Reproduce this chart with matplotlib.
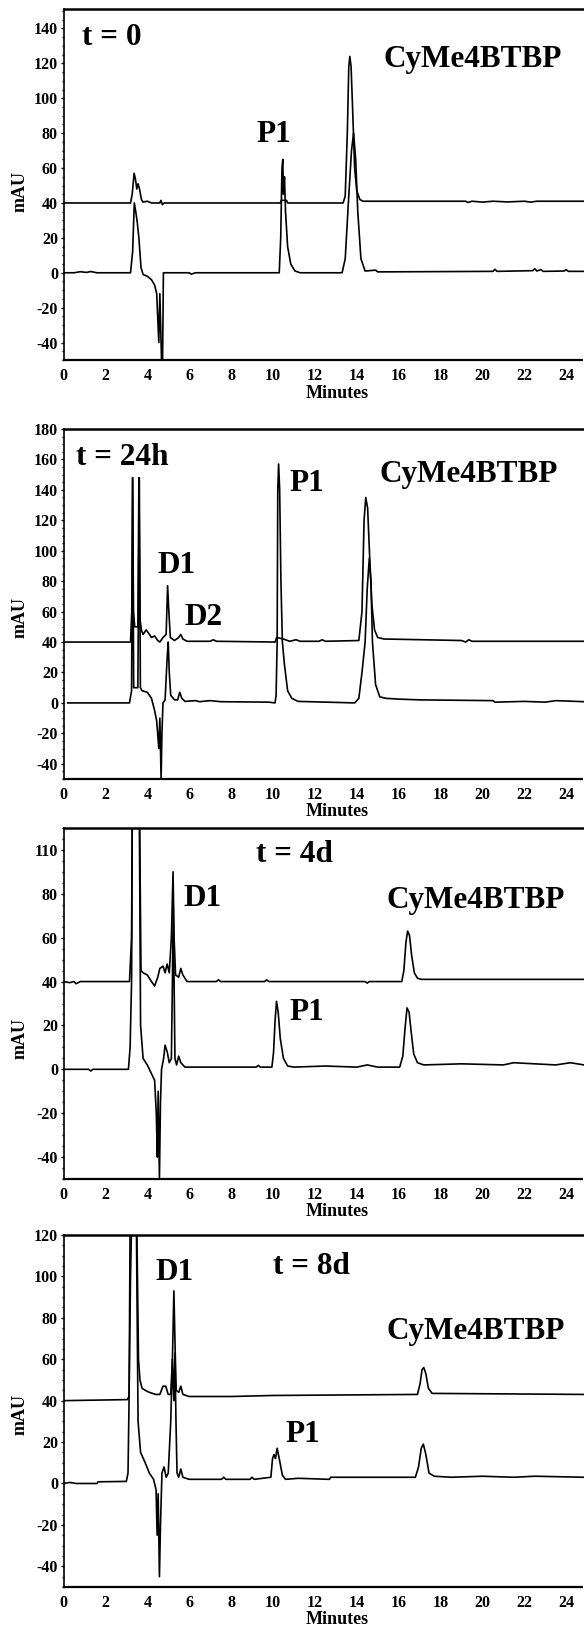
"""HPLC chromatograms of CyMe4BTBP at four ageing times (stacked traces)."""

import matplotlib
matplotlib.use('Agg')
import matplotlib.pyplot as plt
from matplotlib.ticker import MultipleLocator

plt.rcParams['font.family'] = ['Liberation Serif', 'DejaVu Serif']
plt.rcParams['font.weight'] = 'bold'
plt.rcParams['axes.unicode_minus'] = False

# ---- data: (minutes, mAU) ----
# t = 0
T0_UPPER = [(0, 40), (3.2, 40), (3.28, 45), (3.37, 57), (3.43, 54), (3.5, 48), (3.56, 51),
            (3.63, 48), (3.72, 42), (3.8, 40.5), (4.0, 41), (4.2, 40), (4.6, 40), (4.65, 41.5),
            (4.72, 39), (4.8, 40), (10.35, 40), (10.4, 41.5), (10.65, 41.5), (10.7, 40),
            (13.35, 40), (13.45, 44), (13.55, 80), (13.62, 118), (13.67, 124), (13.73, 118),
            (13.8, 95), (13.9, 60), (14.0, 47), (14.15, 42), (14.3, 41), (19.2, 41), (19.3, 40.3),
            (19.5, 41), (20.0, 40.5), (20.5, 41), (21.2, 40.6), (22.0, 41), (22.3, 40.5),
            (22.6, 41), (24.85, 41)]
T0_LOWER = [(0, 0), (0.5, 0), (0.8, 0.6), (1.1, 0.2), (1.3, 0.7), (1.6, 0), (3.2, 0), (3.3, 12),
            (3.38, 40), (3.45, 35), (3.52, 29), (3.6, 20), (3.7, 3), (3.8, -1), (4.0, -2),
            (4.2, -4), (4.35, -7), (4.45, -12), (4.55, -40), (4.6, -12), (4.68, -50), (4.73, -50),
            (4.77, 0), (6.0, 0), (6.1, -0.8), (6.3, 0), (10.3, 0), (10.37, 20), (10.43, 60),
            (10.47, 65), (10.5, 45), (10.55, 55), (10.6, 35), (10.7, 15), (10.85, 5), (11.05, 1),
            (11.3, 0), (13.3, 0), (13.45, 8), (13.6, 40), (13.75, 70), (13.85, 80), (13.95, 65),
            (14.05, 35), (14.2, 8), (14.4, 1), (14.9, 1.5), (15.0, 0.5), (20.5, 0.8), (20.6, 2),
            (20.7, 0.8), (22.4, 1.2), (22.5, 2.3), (22.6, 1), (22.8, 1.8), (22.9, 0.8),
            (23.9, 1), (24.0, 1.8), (24.1, 0.8), (24.85, 0.8)]

# t = 24h
T24_UPPER = [(0, 40), (3.2, 40), (3.26, 60), (3.3, 148), (3.34, 60), (3.4, 50), (3.55, 50),
             (3.6, 148), (3.65, 55), (3.72, 48), (3.8, 45), (3.95, 48), (4.05, 46), (4.2, 43),
             (4.35, 44), (4.5, 41), (4.6, 40), (4.75, 43), (4.9, 45), (4.97, 77), (5.03, 60),
             (5.1, 43), (5.3, 41), (5.5, 43), (5.6, 45), (5.7, 42), (5.9, 40.5), (7.0, 40.5),
             (7.15, 41.5), (7.3, 40.5), (10.1, 40), (10.18, 43), (10.5, 42), (10.8, 40.5),
             (11.1, 41.5), (11.3, 40.5), (12.2, 40.5), (12.35, 41.5), (12.5, 40.5), (14.1, 41),
             (14.25, 60), (14.35, 120), (14.43, 135), (14.52, 128), (14.62, 95), (14.72, 65),
             (14.85, 48), (15.0, 43), (15.3, 42), (19.0, 41), (19.2, 40), (19.35, 41.5),
             (19.5, 40.5), (24.85, 40.5)]
T24_LOWER = [(0.2, 0), (3.15, 0), (3.25, 8), (3.3, 148), (3.35, 10), (3.55, 10), (3.62, 148),
             (3.67, 10), (3.75, 8), (4.0, 7), (4.2, 3), (4.35, -5), (4.45, -12), (4.55, -30),
             (4.6, -10), (4.66, -50), (4.7, -20), (4.75, 0), (4.85, 2), (4.95, 30), (5.0, 40),
             (5.05, 20), (5.12, 5), (5.3, 2), (5.45, 2), (5.55, 7), (5.65, 3), (5.8, 1), (6.3, 1.5),
             (6.5, 0.8), (7.0, 1.5), (7.5, 0.8), (9.8, 0.5), (10.1, 0), (10.15, 5), (10.2, 40),
             (10.23, 140), (10.27, 157), (10.32, 140), (10.38, 80), (10.45, 40), (10.55, 25),
             (10.7, 8), (10.9, 3), (11.2, 1), (13.9, 0), (14.1, 3), (14.25, 20), (14.4, 40),
             (14.5, 75), (14.6, 95), (14.68, 80), (14.75, 40), (14.9, 12), (15.1, 4), (15.4, 3),
             (16.0, 2.5), (17.0, 2), (20.5, 1.5), (20.6, 0.5), (22.0, 1), (23.0, 0.5),
             (23.5, 1.5), (24.85, 0.8)]

# t = 4d
T4D_UPPER = [(0, 40), (0.3, 39.5), (0.5, 40), (0.6, 39), (0.8, 40), (3.15, 40), (3.25, 60),
             (3.3, 150), (3.6, 150), (3.7, 45), (3.8, 44), (4.0, 43), (4.2, 40), (4.35, 38),
             (4.5, 42), (4.6, 46), (4.75, 47), (4.85, 44), (4.95, 48), (5.05, 44), (5.15, 60),
             (5.23, 90), (5.28, 60), (5.35, 43), (5.5, 42), (5.6, 46), (5.7, 43), (5.9, 40),
             (7.3, 40), (7.4, 40.8), (7.5, 40), (9.6, 40), (9.7, 40.8), (9.8, 40), (14.4, 40),
             (14.5, 39.3), (14.6, 40), (16.15, 40), (16.25, 45), (16.35, 58), (16.43, 63),
             (16.52, 61), (16.62, 52), (16.75, 44), (16.9, 41.5), (17.1, 41), (24.85, 41)]
T4D_LOWER = [(0, 0), (1.2, 0), (1.3, -0.8), (1.4, 0), (3.1, 0), (3.18, 10), (3.25, 40),
             (3.3, 150), (3.6, 150), (3.68, 20), (3.8, 5), (4.0, 2), (4.2, -2), (4.35, -5),
             (4.43, -20), (4.48, -40), (4.52, -10), (4.58, -50), (4.63, -15), (4.68, 0),
             (4.78, 5), (4.85, 11), (4.95, 8), (5.05, 3), (5.15, 5), (5.2, 40), (5.24, 75),
             (5.28, 40), (5.32, 5), (5.4, 2), (5.5, 6), (5.6, 3), (5.8, 1), (9.2, 1), (9.3, 1.8),
             (9.4, 1), (9.95, 1), (10.03, 8), (10.1, 22), (10.17, 31), (10.25, 26), (10.35, 14),
             (10.5, 5), (10.7, 1.5), (11.0, 1), (12.5, 1.5), (14.0, 1), (14.5, 2), (15.0, 1),
             (16.05, 1), (16.2, 6), (16.3, 18), (16.4, 28), (16.5, 26), (16.6, 17), (16.72, 7),
             (16.9, 3), (17.2, 2), (19.0, 2.5), (21.0, 2), (21.5, 3), (22.5, 2.5), (23.5, 2),
             (24.2, 3), (24.85, 2)]

# t = 8d
T8D_UPPER = [(0, 40), (3.05, 40.5), (3.13, 42), (3.2, 100), (3.25, 125), (3.5, 125), (3.58, 60),
             (3.65, 50), (3.75, 46), (3.9, 45), (4.1, 44), (4.4, 43), (4.6, 43), (4.75, 47),
             (4.88, 47), (5.0, 43), (5.12, 43), (5.2, 60), (5.27, 93), (5.33, 65), (5.38, 45),
             (5.5, 44), (5.6, 47), (5.7, 43), (6.0, 42), (8.0, 42), (10.0, 42.5), (16.9, 43),
             (17.02, 48), (17.12, 55), (17.2, 56), (17.3, 53), (17.42, 46), (17.6, 43.5),
             (24.85, 43)]
T8D_LOWER = [(0, 0), (0.3, 0.5), (0.6, 0), (1.6, 0), (1.65, 0.8), (3.0, 1), (3.08, 5),
             (3.13, 40), (3.18, 125), (3.48, 125), (3.56, 30), (3.68, 15), (3.9, 10), (4.1, 5),
             (4.3, 2), (4.42, -3), (4.47, -25), (4.52, -5), (4.58, -45), (4.63, -20), (4.7, 5),
             (4.8, 8), (4.9, 3), (5.0, 5), (5.12, 30), (5.2, 60), (5.27, 40), (5.32, 63),
             (5.37, 30), (5.42, 5), (5.5, 3), (5.6, 7), (5.7, 3), (6.0, 2), (7.55, 2), (7.65, 3),
             (7.75, 2), (8.9, 2), (9.0, 3), (9.1, 2), (9.9, 3), (9.98, 12), (10.05, 14),
             (10.12, 12), (10.2, 17), (10.3, 12), (10.45, 4), (10.6, 2), (11.2, 2.5), (12.7, 2),
             (12.75, 3), (16.8, 3), (16.95, 8), (17.08, 17), (17.18, 19), (17.3, 14),
             (17.45, 5), (17.7, 3.5), (18.5, 3), (20.0, 3.5), (21.5, 3), (22.5, 3.5),
             (24.85, 3)]

PANELS = ['t0', 't24h', 't4d', 't8d']
TRACES = {'t0': (T0_UPPER, T0_LOWER), 't24h': (T24_UPPER, T24_LOWER),
          't4d': (T4D_UPPER, T4D_LOWER), 't8d': (T8D_UPPER, T8D_LOWER)}
YLIMS = {'t0': (-50, 151), 't24h': (-50, 180), 't4d': (-50, 110), 't8d': (-50, 120)}
YTICKS = {'t0': [140, 120, 100, 80, 60, 40, 20, 0, -20, -40],
          't24h': [180, 160, 140, 120, 100, 80, 60, 40, 20, 0, -20, -40],
          't4d': [100, 80, 60, 40, 20, 0, -20, -40],
          't8d': [120, 100, 80, 60, 40, 20, 0, -20, -40]}
YTICKLABELS = {'t4d': ['110', '80', '60', '40', '20', '0', '-20', '-40']}
XTICKS = list(range(0, 25, 2))

# peak labels: (text, x in minutes, y in mAU)
LABELS = {
  't0': [('t = 0', 0.9, 135), ('CyMe4BTBP', 15.3, 122), ('P1', 9.2, 79)],
  't24h': [('t = 24h', 0.6, 161), ('CyMe4BTBP', 15.1, 150), ('P1', 10.8, 144),
           ('D1', 4.5, 90), ('D2', 5.8, 56)],
  't4d': [('t = 4d', 9.2, 98), ('D1', 5.75, 78), ('CyMe4BTBP', 15.4, 77), ('P1', 10.8, 25.7)],
  't8d': [('D1', 4.4, 102), ('t = 8d', 10.0, 105), ('CyMe4BTBP', 15.4, 73.6), ('P1', 10.6, 23.7)],
}
YLABEL_POS = {'t0': 0.48, 't24h': 0.46, 't4d': 0.40, 't8d': 0.49}

# axes boxes in pixels (top, bottom) for a 584x1629 canvas
W, H = 584, 1629
LEFT_PX = 63.5
BOXES = {'t0': (9.3, 360), 't24h': (429, 779), 't4d': (828, 1179), 't8d': (1235, 1587)}

fig = plt.figure(figsize=(W/100, H/100), dpi=100)

for p in PANELS:
  top, bot = BOXES[p]
  ax = fig.add_axes([LEFT_PX/W, (H-bot)/H, (W-LEFT_PX)/W, (bot-top)/H])

  for trace in TRACES[p]:
    t, y = zip(*trace)
    ax.plot(t, y, c='black', lw=1.2)

  ax.set_xlim(0, 24.85)
  ax.set_ylim(*YLIMS[p])
  ax.set_xticks(XTICKS)
  ax.set_yticks(YTICKS[p])
  if p in YTICKLABELS:
    ax.set_yticklabels(YTICKLABELS[p])
  ax.yaxis.set_minor_locator(MultipleLocator(5))
  ax.tick_params(axis='both', which='major', labelsize=11.5, length=2, width=1, pad=2)
  ax.tick_params(axis='y', which='minor', length=1.5, width=1)
  ax.tick_params(axis='x', which='major', length=0, pad=6)

  ax.spines['right'].set_visible(False)
  ax.spines['top'].set_linewidth(1.8)
  ax.spines['left'].set_linewidth(1.2)
  ax.spines['bottom'].set_linewidth(1.6)
  ax.spines['bottom'].set_linestyle((0, (1, 1)))

  ax.set_xlabel('Minutes', fontsize=13, fontweight='bold')
  ax.xaxis.set_label_coords(0.525, -33/(bot-top))
  ax.xaxis.label.set_va('center')
  ax.set_ylabel('mAU', fontsize=13, fontweight='bold')
  ax.yaxis.set_label_coords(-43.5/(W-LEFT_PX), YLABEL_POS[p])
  ax.yaxis.label.set_va('center')

  for txt, x, y in LABELS[p]:
    ax.text(x, y, txt, fontsize=22.5, fontweight='bold', ha='left', va='center')

fig.savefig('out.png', dpi=100)
